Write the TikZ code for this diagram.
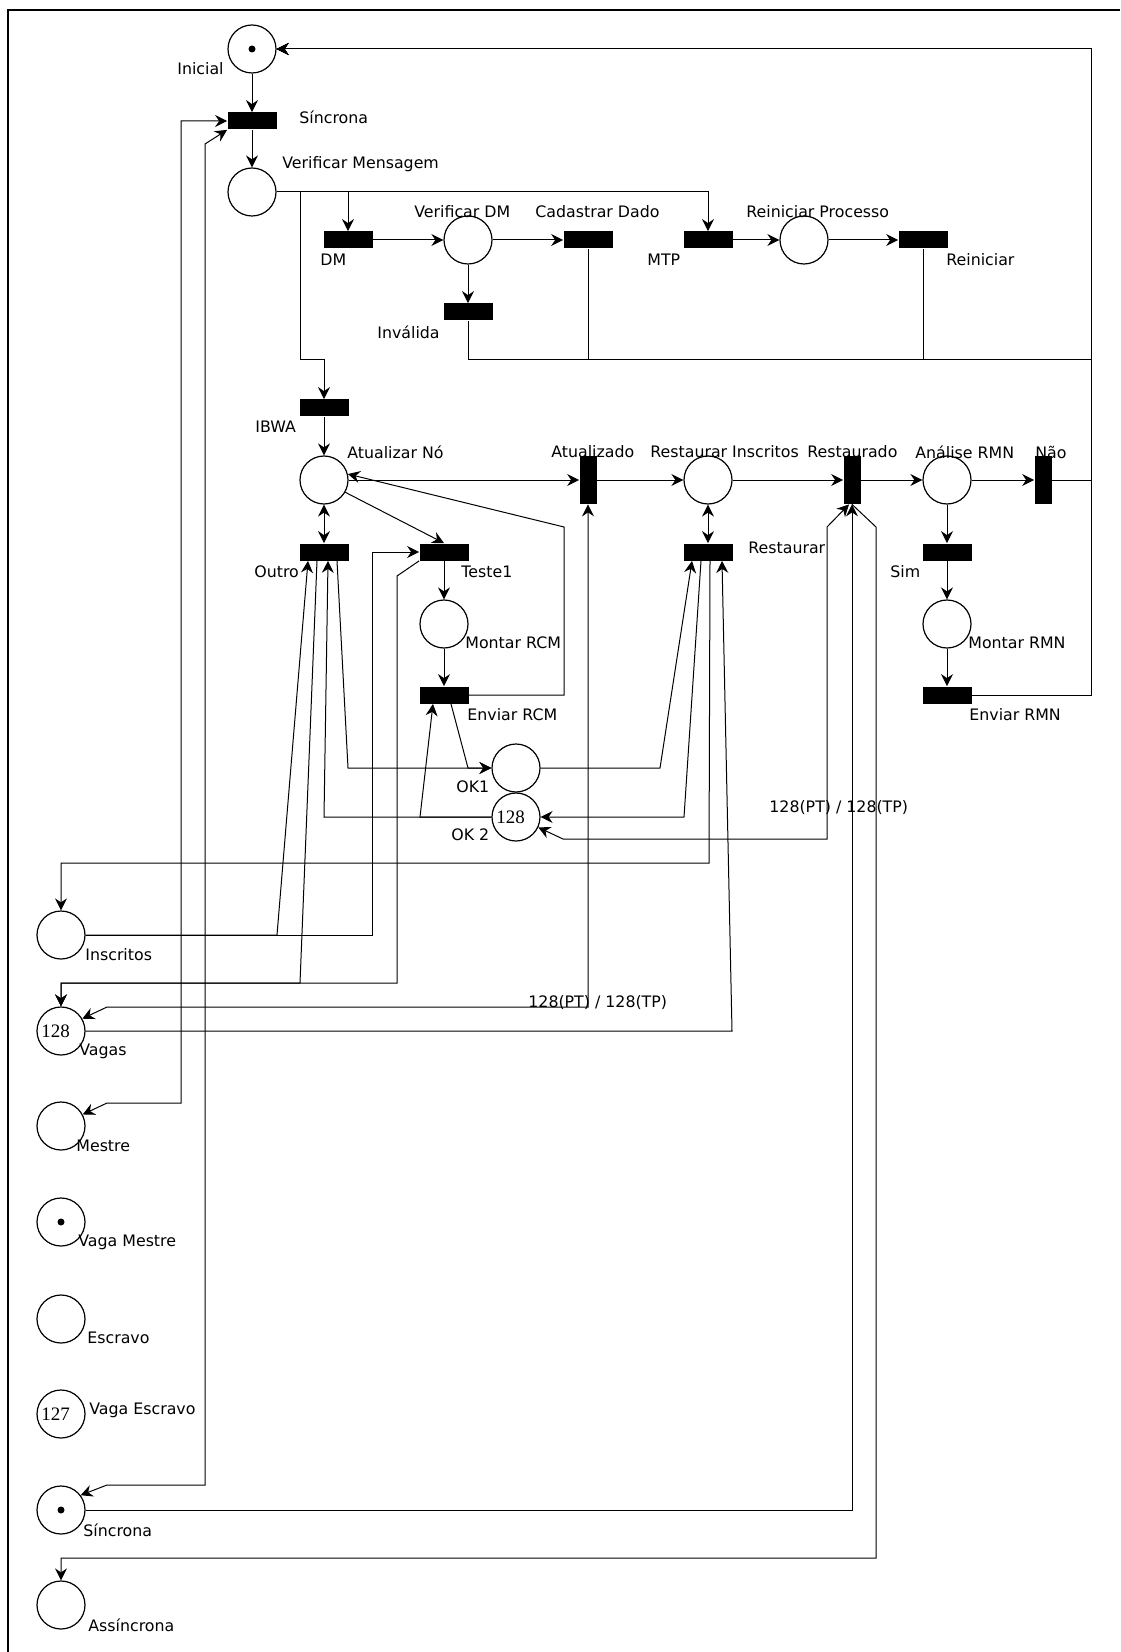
\documentclass[tikz,border=0pt]{standalone}
\usepackage{fontspec}
\setmainfont{DejaVu Sans}
\newfontfamily\numfont{Liberation Serif}
\usetikzlibrary{positioning, arrows.meta, calc}

\begin{document}
\begin{tikzpicture}[
    x=0.5pt, y=-0.5pt,
    place/.style={draw, circle, line width=0.6pt, minimum size=24pt, inner sep=0pt, font=\numfont\fontsize{9.5}{10}\selectfont},
    trans/.style={fill=black, minimum width=24.5pt, minimum height=8.5pt, inner sep=0pt},
    vtrans/.style={fill=black, minimum width=8.5pt, minimum height=24pt, inner sep=0pt},
    token/.style={fill=black, circle, minimum size=3.5pt, inner sep=0pt},
    lbl/.style={anchor=west, inner sep=0pt, font=\fontsize{7.9}{9}\selectfont},
    arc/.style={draw, line width=0.5pt, -{Stealth[length=6pt, width=6pt, inset=2pt]}},
    biarc/.style={draw, line width=0.5pt, {Stealth[length=6pt, width=6pt, inset=2pt]}-{Stealth[length=6pt, width=6pt, inset=2pt]}}
]
\useasboundingbox (0,0) rectangle (1120,1652);
\draw[line width=1pt] (8,1652) -- (8,10) -- (1120,10);

\node[place] (Inicial) at (252,49) {};
\node[trans] (tSincrona) at (252,121) {};
\node[place] (VerMsg) at (252,192) {};
\node[trans] (DM) at (348,240) {};
\node[place] (VerDM) at (468,240) {};
\node[trans] (CadDado) at (588,240) {};
\node[trans] (MTP) at (708,240) {};
\node[place] (ReinProc) at (804,240) {};
\node[trans] (Reiniciar) at (923,240) {};
\node[trans] (Invalida) at (468,312) {};
\node[trans] (IBWA) at (324,408) {};
\node[place] (AtNo) at (324,480) {};
\node[vtrans] (Atualizado) at (588,480) {};
\node[place] (RestInsc) at (708,480) {};
\node[vtrans] (Restaurado) at (852,480) {};
\node[place] (AnRMN) at (947,480) {};
\node[vtrans] (Nao) at (1043,480) {};
\node[trans] (Outro) at (324,552) {};
\node[trans] (Teste1) at (444,552) {};
\node[trans] (Restaurar) at (708,552) {};
\node[trans] (Sim) at (947,552) {};
\node[place] (MontRCM) at (444,624) {};
\node[place] (MontRMN) at (947,624) {};
\node[trans] (EnvRCM) at (444,695) {};
\node[trans] (EnvRMN) at (947,695) {};
\node[place] (OKone) at (516,768) {};
\node[place] (OKtwo) at (516,817) {128\hspace*{5.5pt}};
\node[place] (Inscritos) at (61,935) {};
\node[place] (Vagas) at (61,1031) {128\hspace*{5.5pt}};
\node[place] (Mestre) at (61,1126) {};
\node[place] (VagaMestre) at (61,1222) {};
\node[place] (Escravo) at (61,1319) {};
\node[place] (VagaEscravo) at (61,1414) {127\hspace*{5.5pt}};
\node[place] (SincronaP) at (61,1510) {};
\node[place] (Assincrona) at (61,1605) {};

\node[token] (tokInicial) at (Inicial) {};
\node[token] (tokVagaMestre) at (VagaMestre) {};
\node[token] (tokSincronaP) at (SincronaP) {};

\node[lbl] (lInicial) at (177,69) {Inicial};
\node[lbl] (lSincrona) at (299,117) {Síncrona};
\node[lbl] (lVerMsg) at (282,164) {Verificar Mensagem};
\node[lbl] (lDM) at (320,260) {DM};
\node[lbl] (lVerDM) at (414,212) {Verificar DM};
\node[lbl] (lCadDado) at (535,212) {Cadastrar Dado};
\node[lbl] (lMTP) at (647,260) {MTP};
\node[lbl] (lReinProc) at (746,212) {Reiniciar Processo};
\node[lbl] (lReiniciar) at (946,260) {Reiniciar};
\node[lbl] (lInvalida) at (377,332) {Inválida};
\node[lbl] (lIBWA) at (255,427) {IBWA};
\node[lbl] (lAtNo) at (347,452) {Atualizar Nó};
\node[lbl] (lAtualizado) at (551,452) {Atualizado};
\node[lbl] (lRestInsc) at (650,452) {Restaurar Inscritos};
\node[lbl] (lRestaurado) at (807,452) {Restaurado};
\node[lbl] (lAnRMN) at (915,452) {Análise RMN};
\node[lbl] (lNao) at (1035,452) {Não};
\node[lbl] (lOutro) at (254,572) {Outro};
\node[lbl] (lTeste1) at (461,572) {Teste1};
\node[lbl] (lRestaurar) at (748,548) {Restaurar};
\node[lbl] (lSim) at (890,572) {Sim};
\node[lbl] (lMontRCM) at (465,643) {Montar RCM};
\node[lbl] (lMontRMN) at (968,643) {Montar RMN};
\node[lbl] (lEnvRCM) at (467,715) {Enviar RCM};
\node[lbl] (lEnvRMN) at (969,715) {Enviar RMN};
\node[lbl] (lOKone) at (456,787) {OK1};
\node[lbl] (lOKtwo) at (451,835) {OK 2};
\node[lbl] (lPesoA) at (769,808) {128(PT) / 128(TP)};
\node[lbl] (lPesoB) at (528,1003) {128(PT) / 128(TP)};
\node[lbl] (lInscritos) at (85,955) {Inscritos};
\node[lbl] (lVagas) at (79,1051) {Vagas};
\node[lbl] (lMestre) at (76,1146) {Mestre};
\node[lbl] (lVagaMestre) at (78,1242) {Vaga Mestre};
\node[lbl] (lEscravo) at (87,1338) {Escravo};
\node[lbl] (lVagaEscravo) at (89,1410) {Vaga Escravo};
\node[lbl] (lSincronaP) at (83,1530) {Síncrona};
\node[lbl] (lAssincrona) at (88,1625) {Assíncrona};

\coordinate (ret) at (1091,49);

\path[arc] (Inicial) -- (tSincrona);
\path[arc] (tSincrona) -- (VerMsg);
\path[arc] (VerMsg.east) -| (DM.north);
\path[arc] (VerMsg.east) -| (MTP.north);
\path[arc] (VerMsg.east) -| (300,360) -| (IBWA.north);
\path[arc] (DM) -- (VerDM);
\path[arc] (VerDM) -- (CadDado);
\path[arc] (VerDM) -- (Invalida);
\path[arc] (MTP) -- (ReinProc);
\path[arc] (ReinProc) -- (Reiniciar);
\path[arc] (Invalida.south) |- (1091,360) |- (Inicial.east);
\path[arc] (CadDado.south) |- (1091,360) |- (Inicial.east);
\path[arc] (Reiniciar.south) |- (1091,360) |- (Inicial.east);
\path[arc] (Nao.east) -- (1091,480) |- (Inicial.east);
\path[arc] (EnvRMN.east) -- (1091,695) -- (ret) -- (Inicial.east);

\path[arc] (IBWA) -- (AtNo);
\path[biarc] (AtNo) -- (Outro);
\path[arc] (AtNo) -- (Atualizado);
\path[arc] (AtNo.-30) -- (Teste1.north);
\path[arc] (EnvRCM.east) -- (564,695) -- (564,527) -- (AtNo.14);
\path[arc] (Atualizado) -- (RestInsc);
\path[biarc] (RestInsc) -- (Restaurar);
\path[arc] (RestInsc) -- (Restaurado);
\path[arc] (Restaurado) -- (AnRMN);
\path[arc] (AnRMN) -- (Nao);
\path[arc] (AnRMN) -- (Sim);
\path[arc] (Sim) -- (MontRMN);
\path[arc] (MontRMN) -- (EnvRMN);
\path[arc] (Teste1) -- (MontRCM);
\path[arc] (MontRCM) -- (EnvRCM);

\path[arc] (Inscritos.east) -- (277,935) -- ($(Outro.south)+(-16,0)$);
\path[arc] ($(Outro.south)+(-7,0)$) -- (300,983) -| (Vagas.north);
\path[arc] (OKtwo.west) -- (324,817) -- ($(Outro.south)+(4,0)$);
\path[arc] ($(Outro.south)+(13,0)$) -- (348,768) -- (OKone.west);
\path[arc] (OKtwo.west) -- (420,817) -- ($(EnvRCM.south)+(-11,0)$);
\path[arc] ($(EnvRCM.south)+(7,0)$) -- (468,768) -- (OKone.west);
\path[arc] (Inscritos.east) -- (372,935) |- (Teste1.west);
\path[arc] (Teste1.south west) -- (397,576) -- (397,983) -| (Vagas.north);

\path[arc] (OKone.east) -- (660,768) -- ($(Restaurar.south)+(-16,0)$);
\path[arc] ($(Restaurar.south)+(-7,0)$) -- (684,817) -- (OKtwo.east);
\path[arc] ($(Restaurar.south)+(2,0)$) -- (709,863) -| (Inscritos.north);
\path[arc] (Vagas.east) -- (732,1031) -- ($(Restaurar.south)+(14,0)$);

\path[biarc] (Atualizado.south) -- (588,1007) -- (107,1007) -- (Vagas.30);
\path[biarc] (OKtwo.-25) -- (563,839) -- (827,839) -- (827,527) -- ($(Restaurado.south)+(-3,0)$);
\path[arc] (SincronaP.east) -- (852,1510) -- (Restaurado.south);
\path[arc] (Restaurado.south) -- (876,527) -- (876,1558) -| (Assincrona.north);

\path[biarc] (tSincrona.west) -- (181,121) -- (181,1103) -- (107,1103) -- (Mestre.28);
\path[biarc] (tSincrona.south west) -- (205,144) -- (205,1485) -- (107,1485) -- (SincronaP.37);
\end{tikzpicture}
\end{document}
